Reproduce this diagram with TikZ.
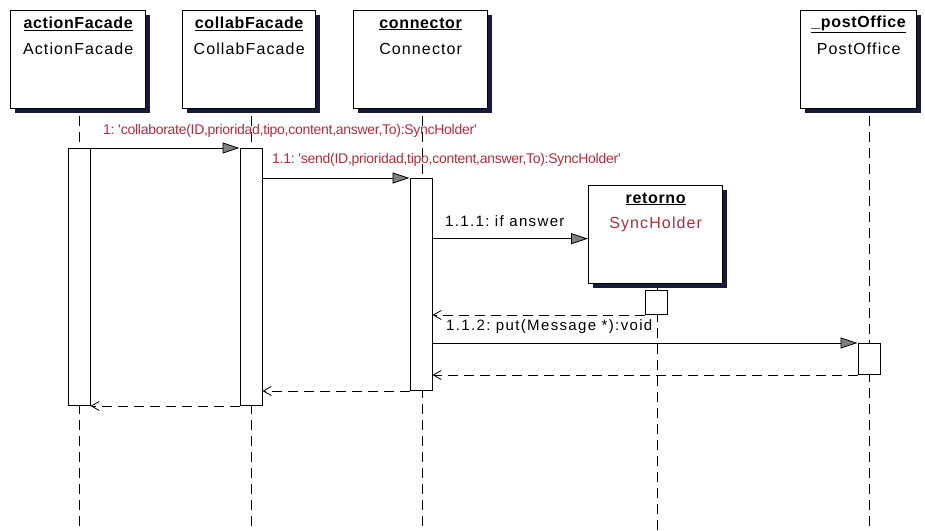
\documentclass[tikz,border=0pt]{standalone}
\usepackage{fontspec}
\setmainfont{Liberation Sans}
\usetikzlibrary{arrows.meta, shadows}
\definecolor{umlred}{RGB}{175,45,60}
\definecolor{shd}{RGB}{25,25,60}
\definecolor{hd}{gray}{.5}
\frenchspacing
\tikzset{
	obj/.style={draw, line width=1.3pt, fill=white, anchor=north west, minimum height=98pt, inner sep=0pt,
		general shadow={fill=shd, shadow xshift=4pt, shadow yshift=-4pt}},
	ttl/.style={font=\fontsize{16}{16}\selectfont\bfseries\addfontfeature{LetterSpace=4}, inner sep=0pt},
	typ/.style={font=\fontsize{16}{16}\selectfont\addfontfeature{LetterSpace=7}, inner sep=0pt},
	bar/.style={draw, line width=1pt, fill=white, minimum width=22pt, anchor=north, inner sep=0pt},
	life/.style={line width=1pt, dash pattern=on 10pt off 6pt},
	call/.style={-{Triangle[length=17pt, width=11pt, fill=hd]}, line width=.8pt},
	back/.style={-{Straight Barb[length=8pt, width=9pt]}, line width=.8pt, dash pattern=on 10pt off 6pt},
	msg/.style={font=\fontsize{15}{15}\selectfont\addfontfeature{LetterSpace=9}, anchor=west, inner sep=0pt},
	rmsg/.style={font=\fontsize{14}{14}\selectfont\addfontfeature{LetterSpace=-2}, text=umlred, anchor=west, inner sep=0pt},
}
% name, x, y, width, title, type
\newcommand{\objbox}[6]{
	\node[obj, minimum width=#4] (#1) at (#2, #3) {};
	\node[ttl] (#1T) at ([yshift=-14pt]#1.north) {\underline{#5}};
	\node[typ] (#1C) at ([yshift=-39pt]#1.north) {#6}
}

\begin{document}
\begin{tikzpicture}[x=1pt, y=-1pt]
	\fill[white] (0,0) rectangle (925,530);
	\useasboundingbox (0,0) rectangle (925,530);
	% lifelines
	\coordinate (actE) at (79,530);
	\coordinate (colE) at (251,530);
	\coordinate (conE) at (422,530);
	\coordinate (retE) at (657,530);
	\coordinate (posE) at (869,530);
	\foreach \l in {act,col,con,pos} \draw[life] (\l E |- 0,100) -- (\l E);
	\draw[life] (retE |- 0,280) -- (retE);
	% objects
	\objbox{act}{10}{10}{135pt}{actionFacade}{ActionFacade};
	\objbox{col}{182}{10}{133pt}{collabFacade}{CollabFacade};
	\objbox{con}{353}{10}{134pt}{connector}{Connector};
	\objbox{pos}{800}{10}{116pt}{\_postOffice}{PostOffice};
	\objbox{ret}{588}{185}{134pt}{retorno}{\color{umlred}SyncHolder};
	% activations
	\node[bar, minimum height=257pt] (actB) at (79,148) {};
	\node[bar, minimum height=257pt] (colB) at (251,148) {};
	\node[bar, minimum height=212pt] (conB) at (421,178) {};
	\node[bar, minimum height=24pt] (retB) at (656.5,290) {};
	\node[bar, minimum height=31pt] (posB) at (869,343) {};
	% messages
	\draw[call] (actB.north east) -- (colB.north west);
	\draw[call] (colB.east |- conB.north) -- (conB.north west);
	\draw[call] ([yshift=-4pt]ret.west -| conB.east) -- ([yshift=-4pt]ret.west);
	\draw[back] (retB.south west) -- (retB.south west -| conB.east);
	\draw[call] (posB.north west -| conB.east) -- (posB.north west);
	\draw[back] (posB.south west) -- (posB.south west -| conB.east);
	\draw[back] (conB.south west) -- (conB.south west -| colB.east);
	\draw[back] (colB.south west) -- (colB.south west -| actB.east);
	\node[rmsg] (m1) at (103,131) {1: \textquotesingle collaborate(ID,prioridad,tipo,content,answer,To):SyncHolder\textquotesingle};
	\node[rmsg] (m2) at (272,160) {1.1: \textquotesingle send(ID,prioridad,tipo,content,answer,To):SyncHolder\textquotesingle};
	\node[msg] (m3) at (445,221) {1.1.1: if answer};
	\node[msg] (m4) at (446,327) {1.1.2: put(Message *):void};
\end{tikzpicture}
\end{document}
